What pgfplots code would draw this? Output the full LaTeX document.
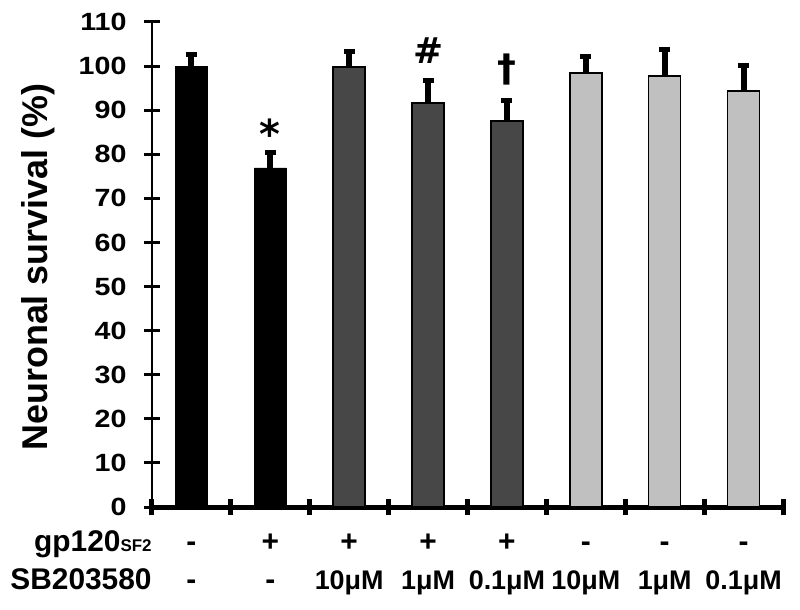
\documentclass[border=0pt]{standalone}
\usepackage{fontspec}
\setmainfont{Liberation Sans}
\newfontfamily\markfont{DejaVu Sans}
\usepackage{pgfplots}
\pgfplotsset{compat=1.18}
\definecolor{darkbar}{HTML}{474747}
\definecolor{lightbar}{HTML}{C0C0C0}

\pgfplotsset{
  errstyle/.style={
    error bars/.cd, y dir=plus, y explicit,
    error bar style={line width=6bp, black},
    error mark options={rotate=90, mark size=5.5bp, line width=5bp, black},
  },
}

\begin{document}
\begin{tikzpicture}
\useasboundingbox (-152bp,-103bp) rectangle (648bp,507bp);
\begin{axis}[
  at={(0,0)}, anchor=south west,
  scale only axis, width=631bp, height=485bp,
  xmin=0, xmax=8, ymin=0, ymax=110,
  axis x line=bottom, axis y line=left,
  x axis line style={line width=5bp, -},
  y axis line style={line width=2.5bp, -},
  xtick={0,...,8}, xticklabels={},
  ytick={0,10,...,110},
  tick align=center,
  xtick style={line width=5bp, black},
  ytick style={line width=3bp, black},
  major tick length=16bp,
  yticklabel={\scalebox{1.15}[1]{\pgfmathprintnumber{\tick}}},
  yticklabel style={font=\bfseries\fontsize{25}{25}\selectfont,
    /pgf/number format/assume math mode=true, anchor=east, xshift=-14bp},
  clip=false,
]
% control and gp120 alone
\addplot[ybar, bar width=32bp, bar shift=0pt, fill=black, draw=black, errstyle]
  coordinates {(0.5,100.0) +- (0,2.6) (1.5,76.9) +- (0,3.5)};
% gp120 + SB203580
\addplot[ybar, bar width=32bp, bar shift=0pt, fill=darkbar, draw=black, line width=1.5bp, errstyle]
  coordinates {(2.5,99.8) +- (0,3.4) (3.5,91.6) +- (0,5.1) (4.5,87.5) +- (0,4.6)};
% SB203580 alone
\addplot[ybar, bar width=32bp, bar shift=0pt, fill=lightbar, draw=black, line width=1.5bp, errstyle]
  coordinates {(5.5,98.4) +- (0,3.7) (6.5,97.7) +- (0,6.0) (7.5,94.3) +- (0,5.8)};

% significance marks
\node[font=\markfont\bfseries\fontsize{40}{40}\selectfont, anchor=base] at (axis cs:1.5,81.2) {*};
\node[font=\markfont\bfseries\fontsize{36}{36}\selectfont, anchor=base] at (axis cs:3.5,100.5) {\#};
\node[font=\markfont\bfseries\fontsize{38}{38}\selectfont, anchor=base] at (axis cs:4.5,96.4) {†};

% y label
\node[rotate=90, font=\bfseries\fontsize{36}{36}\selectfont] at (axis cs:-1.445,54.4) {Neuronal survival (\%)};

% treatment table
\node[font=\bfseries\fontsize{30}{30}\selectfont, anchor=base east] at (axis cs:0.04,-10.0) {gp120{\fontsize{17}{17}\selectfont SF2}};
\node[font=\bfseries\fontsize{30}{30}\selectfont, anchor=base east] at (axis cs:0.04,-18.8) {SB203580};

\node[font=\bfseries\fontsize{30}{30}\selectfont, anchor=base] at (axis cs:0.5,-10.0) {-};
\node[font=\bfseries\fontsize{30}{30}\selectfont, anchor=base] at (axis cs:1.5,-10.0) {+};
\node[font=\bfseries\fontsize{30}{30}\selectfont, anchor=base] at (axis cs:2.5,-10.0) {+};
\node[font=\bfseries\fontsize{30}{30}\selectfont, anchor=base] at (axis cs:3.5,-10.0) {+};
\node[font=\bfseries\fontsize{30}{30}\selectfont, anchor=base] at (axis cs:4.5,-10.0) {+};
\node[font=\bfseries\fontsize{30}{30}\selectfont, anchor=base] at (axis cs:5.5,-10.0) {-};
\node[font=\bfseries\fontsize{30}{30}\selectfont, anchor=base] at (axis cs:6.5,-10.0) {-};
\node[font=\bfseries\fontsize{30}{30}\selectfont, anchor=base] at (axis cs:7.5,-10.0) {-};

\node[font=\bfseries\fontsize{30}{30}\selectfont, anchor=base] at (axis cs:0.5,-18.8) {-};
\node[font=\bfseries\fontsize{30}{30}\selectfont, anchor=base] at (axis cs:1.5,-18.8) {-};
\node[font=\bfseries\fontsize{27}{27}\selectfont, anchor=base] at (axis cs:2.5,-18.8) {10μM};
\node[font=\bfseries\fontsize{27}{27}\selectfont, anchor=base] at (axis cs:3.5,-18.8) {1μM};
\node[font=\bfseries\fontsize{27}{27}\selectfont, anchor=base] at (axis cs:4.5,-18.8) {0.1μM};
\node[font=\bfseries\fontsize{27}{27}\selectfont, anchor=base] at (axis cs:5.5,-18.8) {10μM};
\node[font=\bfseries\fontsize{27}{27}\selectfont, anchor=base] at (axis cs:6.5,-18.8) {1μM};
\node[font=\bfseries\fontsize{27}{27}\selectfont, anchor=base] at (axis cs:7.5,-18.8) {0.1μM};
\end{axis}
\end{tikzpicture}
\end{document}
